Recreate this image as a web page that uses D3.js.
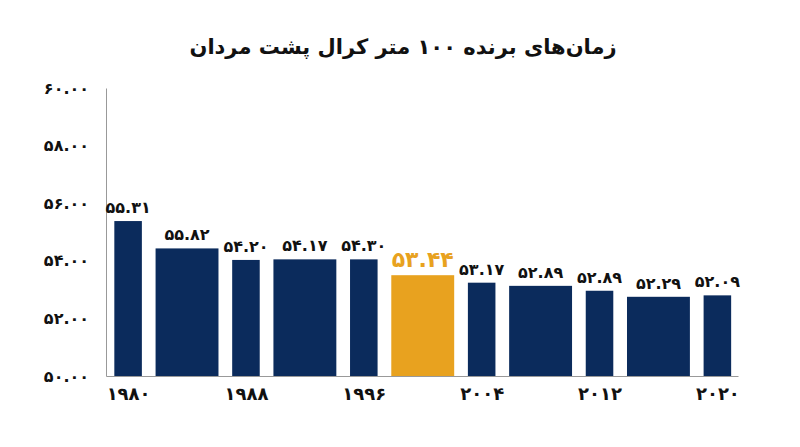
<!DOCTYPE html>
<html>
<head>
<meta charset="utf-8">
<script src="https://cdn.jsdelivr.net/npm/d3@7"></script>
<style>
  body { margin: 0; background: #fff; }
  text { font-family: "DejaVu Sans", sans-serif; font-weight: bold; }
</style>
</head>
<body>
<div id="chart"></div>
<script>
// Olympic years and bar heights (seconds)
const years = [1980, 1984, 1988, 1992, 1996, 2000, 2004, 2008, 2012, 2016, 2020];
const times = [55.38, 54.43, 54.03, 54.05, 54.05, 53.50, 53.24, 53.13, 52.96, 52.75, 52.80];
// labels printed above the bars
const valueLabels = ["۵۵.۳۱", "۵۵.۸۲", "۵۴.۲۰", "۵۴.۱۷", "۵۴.۳۰", "۵۳.۴۴", "۵۳.۱۷", "۵۲.۸۹", "۵۲.۸۹", "۵۲.۲۹", "۵۲.۰۹"];
const highlightYear = 2000;
const xTicks = [1980, 1988, 1996, 2004, 2012, 2020];
const yTicks = [50, 52, 54, 56, 58, 60];
const title = "زمان‌های برنده ۱۰۰ متر کرال پشت مردان";

const width = 800, height = 447;
const margin = { top: 88, right: 62, bottom: 71, left: 106 };

const toFa = s => String(s).replace(/\d/g, d => "۰۱۲۳۴۵۶۷۸۹"[d]);

const svg = d3.select("#chart")
    .append("svg")
    .attr("width", width)
    .attr("height", height);

// Scales
const x = d3.scaleLinear()
    .domain([1978.5, 2021.4])
    .range([margin.left, width - margin.right]);

const y = d3.scaleLinear()
    .domain([50, 60])
    .range([height - margin.bottom, margin.top]);

const pxPerYear = x(1981) - x(1980);
// labelled years get narrow bars, the years between get wide ones
const barWidth = yr => xTicks.includes(yr) ? pxPerYear * 1.87 : pxPerYear * 4.27;

// Title
svg.append("text")
    .attr("x", 403)
    .attr("y", 54)
    .attr("text-anchor", "middle")
    .attr("direction", "rtl")
    .style("font-size", "21px")
    .attr("fill", "#111")
    .text(title);

// Y axis
const yAxis = svg.append("g")
    .attr("transform", `translate(${margin.left},0)`)
    .call(d3.axisLeft(y).tickValues(yTicks).tickSize(0).tickPadding(17)
        .tickFormat(d => toFa(d3.format(".2f")(d))));
yAxis.select(".domain").attr("stroke", "#999");
yAxis.selectAll("text")
    .style("font-size", "16px")
    .attr("fill", "#111")
    .attr("direction", "ltr");

// Bars
svg.selectAll("rect.bar")
    .data(years)
    .enter()
    .append("rect")
    .attr("class", "bar")
    .attr("x", (d) => x(d) - barWidth(d) / 2)
    .attr("y", (d, i) => y(times[i]))
    .attr("width", d => barWidth(d))
    .attr("height", (d, i) => y(50) - y(times[i]))
    .attr("fill", d => d === highlightYear ? "#e8a21f" : "#0b2b5c");

// Value labels
svg.selectAll("text.val")
    .data(years)
    .enter()
    .append("text")
    .attr("class", "val")
    .attr("x", d => x(d))
    .attr("y", (d, i) => y(times[i]) - 8)
    .attr("text-anchor", "middle")
    .attr("direction", "ltr")
    .style("font-size", d => d === highlightYear ? "22px" : "16px")
    .attr("fill", d => d === highlightYear ? "#e8a21f" : "#111")
    .text((d, i) => valueLabels[i]);

// X axis
const xAxis = svg.append("g")
    .attr("transform", `translate(0,${y(50)})`)
    .call(d3.axisBottom(x).tickValues(xTicks).tickSize(0).tickPadding(11)
        .tickFormat(d => toFa(d)));
xAxis.select(".domain").attr("stroke", "#999");
xAxis.selectAll("text")
    .style("font-size", "18px")
    .attr("fill", "#111")
    .attr("direction", "ltr");
</script>
</body>
</html>
